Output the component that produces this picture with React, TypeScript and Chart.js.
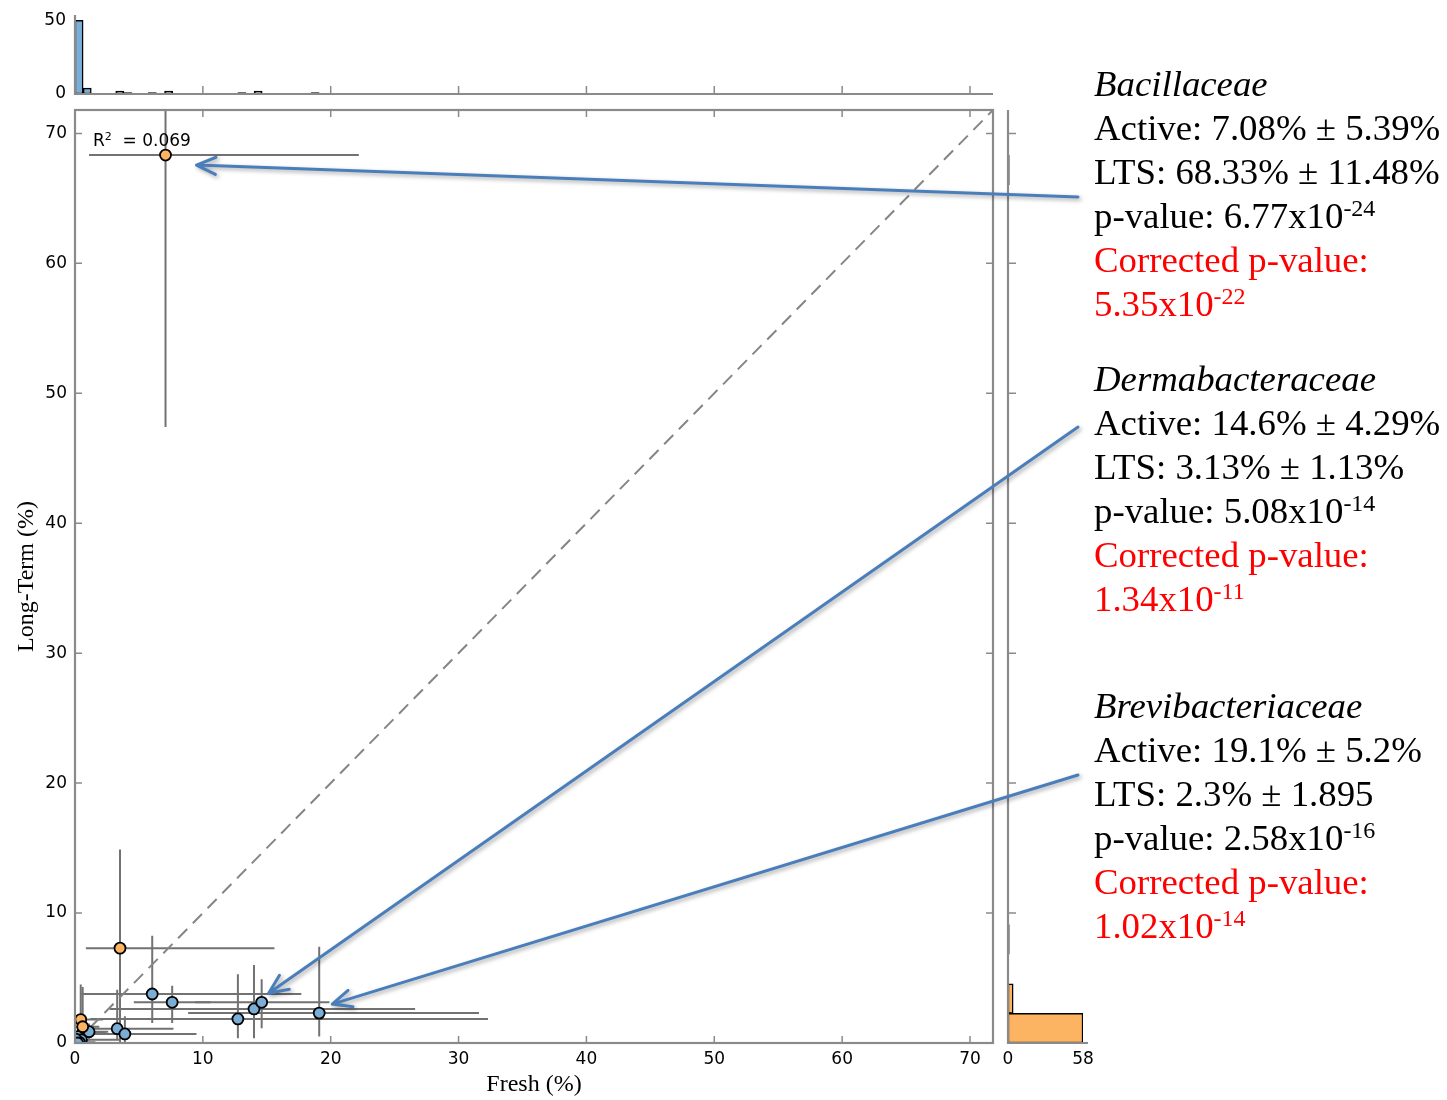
import React, { useEffect, useRef } from 'react';
import { Chart, registerables } from 'chart.js';

Chart.register(...registerables);

// ---------- axes ----------
const AXIS_MAX = 71.8; // Fresh and Long-Term axes share the same 0..71.8 % range
const AXIS_STEP = 10;
const axisTickValues = [0, 10, 20, 30, 40, 50, 60, 70];

// ---------- marginal histograms (30 bins over each variable's observed range) ----------
const HIST_BINS = 30;
const freshBinWidth = 19.1 / HIST_BINS;
const freshBinIndex = [0, 1, 5, 6, 9, 11, 20, 22, 29];
const freshBinCount = [50, 4, 2, 1, 1, 2, 1, 2, 1];
const freshHistMax = 53;
const freshHistTicks = [0, 50];

const ltsBinWidth = 68.33 / HIST_BINS;
const ltsBinIndex = [0, 1, 3, 29];
const ltsBinCount = [58, 4, 1, 1];
const ltsHistMax = 58;
const ltsHistTicks = [0, 58];

// ---------- families higher in fresh samples (blue) ----------
const freshFamFresh = [6.04, 7.6, 14.0, 12.74, 3.3, 3.9, 0.65, 1.1, 0.25, 0.5, 0.1, 0.35, 0.05, 0.2];
const freshFamLts = [3.77, 3.13, 2.62, 1.85, 1.1, 0.7, 0.77, 0.87, 0.49, 0.25, 0.15, 0.05, 0.3, 0.0];
const freshFamFreshLo = [0.5, 4.6, 2.7, 1.2, 0.5, 0.5, 0, 0.1, 0, 0, 0, 0, 0, 0];
const freshFamFreshHi = [17.7, 10.6, 26.6, 32.3, 7.7, 9.5, 2.4, 2.6, 1.3, 3.5, 0.6, 1.6, 0.5, 4.8];
const freshFamLtsLo = [1.54, 1.54, 0.36, 0.36, 0.26, 0, 0, 0.2, 0, 0, 0, 0, 0, 0];
const freshFamLtsHi = [8.26, 4.41, 6.0, 5.3, 4.1, 2.05, 1.8, 1.5, 1.1, 0.9, 0.5, 0.4, 0.9, 0.4];

// ---------- families higher in long-term storage (orange) ----------
const ltsFamFresh = [3.52, 0.45, 0.6];
const ltsFamLts = [7.3, 1.8, 1.25];
const ltsFamFreshLo = [0.85, 0.1, 0];
const ltsFamFreshHi = [15.6, 2.2, 1.9];
const ltsFamLtsLo = [0, 0, 0];
const ltsFamLtsHi = [14.9, 4.5, 4.3];

// ---------- called-out families ----------
const calloutFamilies = ['Bacillaceae', 'Dermabacteraceae', 'Brevibacteriaceae'];
const calloutGroup = ['lts', 'fresh', 'fresh'];
const calloutActive = [7.08, 14.6, 19.1];
const calloutActiveSd = ['5.39%', '4.29%', '5.2%'];
const calloutLts = [68.33, 3.13, 2.3];
const calloutLtsSd = ['11.48%', '1.13%', '1.895'];
const calloutPMantissa = ['6.77', '5.08', '2.58'];
const calloutPExponent = ['-24', '-14', '-16'];
const calloutCorrMantissa = ['5.35', '1.34', '1.02'];
const calloutCorrExponent = ['-22', '-11', '-14'];
const calloutFreshLo = [1.1, 9.4, 8.85];
const calloutFreshHi = [22.2, 19.9, 31.6];
const calloutLtsLo = [47.4, 1.13, 0.5];
const calloutLtsHi = [89.3, 4.9, 7.4];

const R2_TEXT = '  = 0.069';

// ---------- styling / layout ----------
const BLUE = '#7aaed6';
const ORANGE = '#fdb462';
const FRAME = '#8a8a8a';
const ERR = '#727272';
const ARROW = '#4a7ebb';
const TICK_FONT = { family: 'DejaVu Sans', size: 17 };
const TITLE_FONT = { family: 'Liberation Serif', size: 24 };

const PAGE_W = 1447;
const PAGE_H = 1100;
const PLOT_LEFT = 75;
const PLOT_RIGHT = 993;
const PLOT_TOP = 110;
const PLOT_BOTTOM = 1043;

const CALLOUT_LEFT = 1094;
const CALLOUT_TOPS = [62, 357, 684];
const ARROW_FROM = [[1078, 197], [1078, 427], [1078, 775]];
const ARROW_TIP_OFFSET = [[31, 10], [7, -9], [13, -9]];

type ErrPoint = { x: number; y: number; xLo: number; xHi: number; yLo: number; yHi: number };

function buildGroup(fx: number[], fy: number[], xlo: number[], xhi: number[], ylo: number[], yhi: number[]): ErrPoint[] {
  return fx.map((v, i) => ({ x: v, y: fy[i], xLo: xlo[i], xHi: xhi[i], yLo: ylo[i], yHi: yhi[i] }));
}

const calloutPoints: ErrPoint[] = calloutFamilies.map((_, i) => ({
  x: calloutActive[i],
  y: calloutLts[i],
  xLo: calloutFreshLo[i],
  xHi: calloutFreshHi[i],
  yLo: calloutLtsLo[i],
  yHi: calloutLtsHi[i],
}));

const bluePoints: ErrPoint[] = [
  ...buildGroup(freshFamFresh, freshFamLts, freshFamFreshLo, freshFamFreshHi, freshFamLtsLo, freshFamLtsHi),
  ...calloutPoints.filter((_, i) => calloutGroup[i] === 'fresh'),
];
const orangePoints: ErrPoint[] = [
  ...buildGroup(ltsFamFresh, ltsFamLts, ltsFamFreshLo, ltsFamFreshHi, ltsFamLtsLo, ltsFamLtsHi),
  ...calloutPoints.filter((_, i) => calloutGroup[i] === 'lts'),
];

// full list of bins (empty ones get 0) so every bar is exactly one bin wide
function histogramBins(binIndex: number[], binCount: number[], width: number) {
  const out: { center: number; count: number }[] = [];
  for (let b = 0; b < HIST_BINS; b++) {
    const k = binIndex.indexOf(b);
    out.push({ center: (b + 0.5) * width, count: k >= 0 ? binCount[k] : 0 });
  }
  return out;
}

// keep label overflow from shrinking the plotting area
const noLabelPadding = (s: any) => {
  s.paddingTop = 0;
  s.paddingBottom = 0;
  s.paddingLeft = 0;
  s.paddingRight = 0;
};

// error bars behind the markers
const errorBarPlugin = {
  id: 'errorBars',
  beforeDatasetsDraw(chart: any) {
    const { ctx, chartArea: a, scales } = chart;
    const x = scales.x;
    const y = scales.y;
    ctx.save();
    ctx.beginPath();
    ctx.rect(a.left, a.top, a.right - a.left, a.bottom - a.top);
    ctx.clip();
    ctx.strokeStyle = ERR;
    ctx.lineWidth = 2;
    for (const p of [...bluePoints, ...orangePoints]) {
      const px = x.getPixelForValue(p.x);
      const py = y.getPixelForValue(p.y);
      ctx.beginPath();
      ctx.moveTo(x.getPixelForValue(p.xLo), py);
      ctx.lineTo(x.getPixelForValue(p.xHi), py);
      ctx.moveTo(px, y.getPixelForValue(p.yLo));
      ctx.lineTo(px, y.getPixelForValue(p.yHi));
      ctx.stroke();
    }
    ctx.restore();
  },
};

// box frame with inward ticks on all four sides
const framePlugin = {
  id: 'frame',
  afterDatasetsDraw(chart: any) {
    const { ctx, chartArea: a, scales } = chart;
    ctx.save();
    ctx.strokeStyle = FRAME;
    ctx.lineWidth = 2.2;
    ctx.strokeRect(a.left, a.top, a.right - a.left, a.bottom - a.top);
    ctx.lineWidth = 1.5;
    ctx.beginPath();
    for (const v of axisTickValues) {
      if (v <= 0) continue;
      const px = scales.x.getPixelForValue(v);
      const py = scales.y.getPixelForValue(v);
      ctx.moveTo(px, a.bottom);
      ctx.lineTo(px, a.bottom - 7);
      ctx.moveTo(px, a.top);
      ctx.lineTo(px, a.top + 7);
      ctx.moveTo(a.left, py);
      ctx.lineTo(a.left + 7, py);
      ctx.moveTo(a.right, py);
      ctx.lineTo(a.right - 7, py);
    }
    ctx.stroke();
    ctx.restore();
  },
};

// callout arrows from the text column to the three families
const arrowPlugin = {
  id: 'calloutArrows',
  afterDraw(chart: any) {
    const { ctx, scales } = chart;
    ctx.save();
    ctx.strokeStyle = ARROW;
    ctx.lineWidth = 3;
    ctx.lineCap = 'round';
    ctx.lineJoin = 'round';
    ctx.shadowColor = 'rgba(0,0,0,0.35)';
    ctx.shadowBlur = 4;
    ctx.shadowOffsetX = 2;
    ctx.shadowOffsetY = 2;
    calloutPoints.forEach((p, i) => {
      const tx = scales.x.getPixelForValue(p.x) + ARROW_TIP_OFFSET[i][0];
      const ty = scales.y.getPixelForValue(p.y) + ARROW_TIP_OFFSET[i][1];
      const [sx, sy] = ARROW_FROM[i];
      const len = Math.hypot(tx - sx, ty - sy);
      const dx = (tx - sx) / len;
      const dy = (ty - sy) / len;
      const head = 21;
      const ang = (24 * Math.PI) / 180;
      const c = Math.cos(ang);
      const s = Math.sin(ang);
      const ax1 = tx - head * (dx * c - dy * s);
      const ay1 = ty - head * (dy * c + dx * s);
      const ax2 = tx - head * (dx * c + dy * s);
      const ay2 = ty - head * (dy * c - dx * s);
      ctx.beginPath();
      ctx.moveTo(sx, sy);
      ctx.lineTo(tx, ty);
      ctx.moveTo(ax1, ay1);
      ctx.lineTo(tx, ty);
      ctx.lineTo(ax2, ay2);
      ctx.stroke();
    });
    ctx.restore();
  },
};

// spines of the top histogram (left + bottom, ticks pointing up)
const topSpinePlugin = {
  id: 'topSpines',
  afterDatasetsDraw(chart: any) {
    const { ctx, chartArea: a, scales } = chart;
    ctx.save();
    ctx.strokeStyle = FRAME;
    ctx.lineWidth = 2.2;
    ctx.beginPath();
    ctx.moveTo(a.left, a.top - 1);
    ctx.lineTo(a.left, a.bottom);
    ctx.lineTo(a.right, a.bottom);
    ctx.stroke();
    ctx.lineWidth = 1.5;
    ctx.beginPath();
    for (const v of axisTickValues) {
      if (v <= 0) continue;
      const px = scales.x.getPixelForValue(v);
      ctx.moveTo(px, a.bottom);
      ctx.lineTo(px, a.bottom - 8);
    }
    ctx.stroke();
    ctx.restore();
  },
};

// spines of the side histogram (left + bottom, ticks pointing right)
const sideSpinePlugin = {
  id: 'sideSpines',
  afterDatasetsDraw(chart: any) {
    const { ctx, chartArea: a, scales } = chart;
    ctx.save();
    ctx.strokeStyle = FRAME;
    ctx.lineWidth = 2.2;
    ctx.beginPath();
    ctx.moveTo(a.left, a.top);
    ctx.lineTo(a.left, a.bottom);
    ctx.lineTo(a.right + 5, a.bottom);
    ctx.stroke();
    ctx.lineWidth = 1.5;
    ctx.beginPath();
    for (const v of axisTickValues) {
      if (v <= 0) continue;
      const py = scales.y.getPixelForValue(v);
      ctx.moveTo(a.left, py);
      ctx.lineTo(a.left + 8, py);
    }
    ctx.stroke();
    ctx.restore();
  },
};

const supStyle: React.CSSProperties = { fontSize: '24px', verticalAlign: '12px', lineHeight: 0 };

const barDatasetDefaults = { barPercentage: 1, categoryPercentage: 1 };

export default function App() {
  const topRef = useRef<HTMLCanvasElement>(null);
  const mainRef = useRef<HTMLCanvasElement>(null);
  const sideRef = useRef<HTMLCanvasElement>(null);

  useEffect(() => {
    const charts: Chart[] = [];
    const freshHist = histogramBins(freshBinIndex, freshBinCount, freshBinWidth);
    const ltsHist = histogramBins(ltsBinIndex, ltsBinCount, ltsBinWidth);

    // top marginal histogram: Fresh
    charts.push(
      new Chart(topRef.current as HTMLCanvasElement, {
        type: 'bar',
        data: {
          datasets: [
            {
              data: freshHist.map((b) => ({ x: b.center, y: b.count })),
              backgroundColor: BLUE,
              borderColor: '#000',
              borderWidth: 1.5,
              borderSkipped: false,
              ...barDatasetDefaults,
            } as any,
          ],
        },
        options: {
          animation: false,
          responsive: false,
          events: [],
          datasets: { bar: barDatasetDefaults },
          layout: { padding: { left: 0, right: 1010 - PLOT_RIGHT, top: 16, bottom: 16 } },
          plugins: { legend: { display: false }, tooltip: { enabled: false } },
          scales: {
            x: {
              type: 'linear',
              min: 0,
              max: AXIS_MAX,
              offset: false,
              display: false,
              ticks: { stepSize: AXIS_STEP, includeBounds: false },
            },
            y: {
              type: 'linear',
              min: 0,
              max: freshHistMax,
              afterFit: (s: any) => {
                s.width = PLOT_LEFT;
                noLabelPadding(s);
              },
              afterBuildTicks: (s: any) => {
                s.ticks = freshHistTicks.map((v) => ({ value: v }));
              },
              grid: { display: false, drawTicks: false },
              border: { display: false },
              ticks: { padding: 9, color: '#000', font: TICK_FONT },
            },
          },
        } as any,
        plugins: [topSpinePlugin],
      })
    );

    // side marginal histogram: Long-Term
    charts.push(
      new Chart(sideRef.current as HTMLCanvasElement, {
        type: 'bar',
        data: {
          datasets: [
            {
              data: ltsHist.map((b) => ({ y: b.center, x: b.count })),
              backgroundColor: ORANGE,
              borderColor: '#000',
              borderWidth: 1.5,
              borderSkipped: false,
              ...barDatasetDefaults,
            } as any,
          ],
        },
        options: {
          indexAxis: 'y',
          animation: false,
          responsive: false,
          events: [],
          datasets: { bar: barDatasetDefaults },
          layout: { padding: { left: 13, right: 27, top: 10, bottom: 0 } },
          plugins: { legend: { display: false }, tooltip: { enabled: false } },
          scales: {
            y: {
              type: 'linear',
              min: 0,
              max: AXIS_MAX,
              offset: false,
              display: false,
              ticks: { stepSize: AXIS_STEP, includeBounds: false },
            },
            x: {
              type: 'linear',
              min: 0,
              max: ltsHistMax,
              afterFit: (s: any) => {
                s.height = PAGE_H - PLOT_BOTTOM;
                noLabelPadding(s);
              },
              afterBuildTicks: (s: any) => {
                s.ticks = ltsHistTicks.map((v) => ({ value: v }));
              },
              grid: { display: false, drawTicks: false },
              border: { display: false },
              ticks: { padding: 6, color: '#000', font: TICK_FONT, maxRotation: 0, autoSkip: false },
            },
          },
        } as any,
        plugins: [sideSpinePlugin],
      })
    );

    // main scatter with error bars
    charts.push(
      new Chart(mainRef.current as HTMLCanvasElement, {
        type: 'scatter',
        data: {
          datasets: [
            {
              data: orangePoints.map((p) => ({ x: p.x, y: p.y })),
              backgroundColor: ORANGE,
              borderColor: '#000',
              borderWidth: 1.8,
              pointRadius: 5.5,
              clip: 0,
              order: 0,
            },
            {
              data: bluePoints.map((p) => ({ x: p.x, y: p.y })),
              backgroundColor: BLUE,
              borderColor: '#000',
              borderWidth: 1.8,
              pointRadius: 5.5,
              clip: 0,
              order: 1,
            },
            {
              // 1:1 reference line
              data: [
                { x: 0, y: 0 },
                { x: AXIS_MAX, y: AXIS_MAX },
              ],
              showLine: true,
              borderColor: '#858585',
              borderWidth: 2,
              borderDash: [13, 8],
              pointRadius: 0,
              clip: 0,
              order: 2,
            },
          ] as any,
        },
        options: {
          animation: false,
          responsive: false,
          events: [],
          layout: { padding: { left: 0, right: PAGE_W - PLOT_RIGHT, top: PLOT_TOP, bottom: 0 } },
          plugins: { legend: { display: false }, tooltip: { enabled: false } },
          scales: {
            x: {
              type: 'linear',
              min: 0,
              max: AXIS_MAX,
              afterFit: (s: any) => {
                s.height = PAGE_H - PLOT_BOTTOM;
                noLabelPadding(s);
              },
              grid: { display: false, drawTicks: false },
              border: { display: false },
              ticks: {
                stepSize: AXIS_STEP,
                includeBounds: false,
                autoSkip: false,
                maxRotation: 0,
                padding: 6,
                color: '#000',
                font: TICK_FONT,
              },
              title: {
                display: true,
                text: 'Fresh (%)',
                color: '#000',
                font: TITLE_FONT,
                padding: { top: 0, bottom: 1 },
              },
            },
            y: {
              type: 'linear',
              min: 0,
              max: AXIS_MAX,
              afterFit: (s: any) => {
                s.width = PLOT_LEFT;
                noLabelPadding(s);
              },
              grid: { display: false, drawTicks: false },
              border: { display: false },
              ticks: {
                stepSize: AXIS_STEP,
                includeBounds: false,
                autoSkip: false,
                padding: 8,
                color: '#000',
                font: TICK_FONT,
              },
              title: {
                display: true,
                text: 'Long-Term (%)',
                color: '#000',
                font: TITLE_FONT,
                padding: { top: 12, bottom: 0 },
              },
            },
          },
        } as any,
        plugins: [errorBarPlugin, framePlugin, arrowPlugin],
      })
    );

    return () => charts.forEach((c) => c.destroy());
  }, []);

  return (
    <div
      style={{
        position: 'absolute',
        left: 0,
        top: 0,
        width: PAGE_W,
        height: PAGE_H,
        overflow: 'hidden',
        background: '#fff',
      }}
    >
      <canvas ref={topRef} width={1010} height={110} style={{ position: 'absolute', left: 0, top: 0 }} />
      <canvas ref={sideRef} width={115} height={1000} style={{ position: 'absolute', left: 995, top: 100 }} />
      <canvas ref={mainRef} width={PAGE_W} height={PAGE_H} style={{ position: 'absolute', left: 0, top: 0 }} />

      <div
        style={{
          position: 'absolute',
          left: 93,
          top: 130,
          font: '17px "DejaVu Sans"',
          lineHeight: '20px',
          whiteSpace: 'pre',
          color: '#000',
        }}
      >
        R<sup style={{ fontSize: '11px', verticalAlign: '6px', lineHeight: 0 }}>2</sup>
        {R2_TEXT}
      </div>

      {calloutFamilies.map((fam, i) => (
        <div
          key={fam}
          style={{
            position: 'absolute',
            left: CALLOUT_LEFT,
            top: CALLOUT_TOPS[i],
            font: '36.8px "Liberation Serif"',
            lineHeight: '44px',
            color: '#000',
            whiteSpace: 'nowrap',
          }}
        >
          <div style={{ fontStyle: 'italic' }}>{fam}</div>
          <div>
            Active: {calloutActive[i]}% ± {calloutActiveSd[i]}
          </div>
          <div>
            LTS: {calloutLts[i]}% ± {calloutLtsSd[i]}
          </div>
          <div>
            p-value: {calloutPMantissa[i]}x10<sup style={supStyle}>{calloutPExponent[i]}</sup>
          </div>
          <div style={{ color: '#ff0000' }}>Corrected p-value:</div>
          <div style={{ color: '#ff0000' }}>
            {calloutCorrMantissa[i]}x10<sup style={supStyle}>{calloutCorrExponent[i]}</sup>
          </div>
        </div>
      ))}
    </div>
  );
}
